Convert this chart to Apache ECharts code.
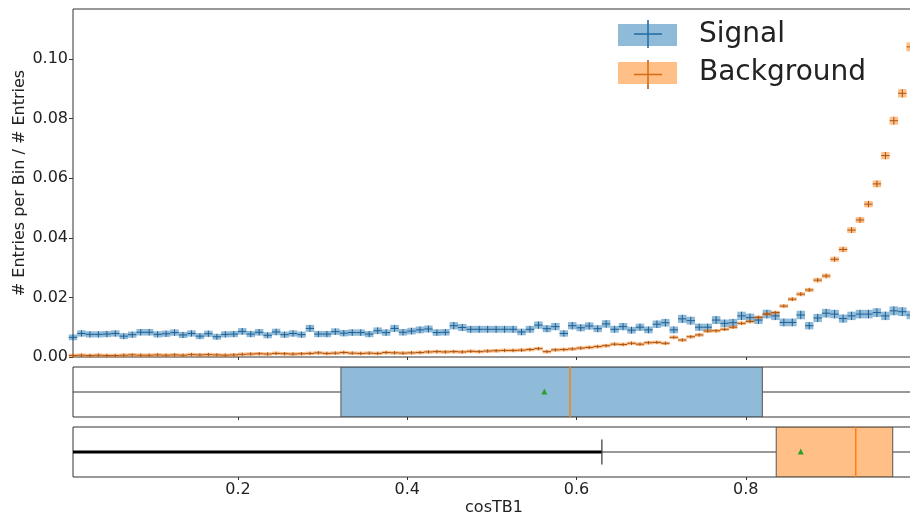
<!DOCTYPE html>
<html>
<head>
<meta charset="utf-8">
<script src="https://cdn.jsdelivr.net/npm/echarts@6/dist/echarts.min.js"></script>
<style>
  html, body { margin: 0; padding: 0; background: #fff; }
  #chart { width: 910px; height: 515px; }
</style>
</head>
<body>
<div id="chart"></div>
<script>
// histogram bins: 100 bins of cosTB1 from 0 to 1
const binStart = 0;
const binWidth = 0.01;
const seriesNames = ['Signal', 'Background'];

const sigValues = [
  0.0066, 0.0079, 0.0076, 0.0076, 0.0077, 0.0079, 0.0070, 0.0075, 0.0083, 0.0083,
  0.0076, 0.0078, 0.0082, 0.0074, 0.0079, 0.0070, 0.0078, 0.0068, 0.0076, 0.0077,
  0.0086, 0.0077, 0.0083, 0.0073, 0.0084, 0.0075, 0.0079, 0.0075, 0.0096, 0.0077,
  0.0077, 0.0085, 0.0080, 0.0082, 0.0082, 0.0077, 0.0088, 0.0082, 0.0096, 0.0083,
  0.0087, 0.0091, 0.0094, 0.0082, 0.0083, 0.0105, 0.0099, 0.0093, 0.0093, 0.0093,
  0.0093, 0.0093, 0.0093, 0.0084, 0.0093, 0.0107, 0.0095, 0.0102, 0.0079, 0.0105,
  0.0098, 0.0104, 0.0095, 0.0111, 0.0093, 0.0102, 0.0090, 0.0100, 0.0091, 0.0110,
  0.0115, 0.0091, 0.0128, 0.0122, 0.0100, 0.0100, 0.0124, 0.0113, 0.0115, 0.0138,
  0.0132, 0.0124, 0.0144, 0.0138, 0.0116, 0.0116, 0.0141, 0.0105, 0.0131, 0.0147,
  0.0144, 0.0129, 0.0138, 0.0144, 0.0144, 0.0149, 0.0138, 0.0155, 0.0152, 0.0141
];
const bkgValues = [
  0.0005, 0.0006, 0.0005, 0.0006, 0.0005, 0.0005, 0.0006, 0.0007, 0.0006, 0.0006,
  0.0007, 0.0006, 0.0007, 0.0006, 0.0008, 0.0007, 0.0008, 0.0007, 0.0006, 0.0007,
  0.0009, 0.0010, 0.0011, 0.0010, 0.0012, 0.0011, 0.0010, 0.0011, 0.0012, 0.0014,
  0.0012, 0.0013, 0.0015, 0.0013, 0.0012, 0.0013, 0.0012, 0.0015, 0.0014, 0.0013,
  0.0014, 0.0015, 0.0017, 0.0018, 0.0017, 0.0018, 0.0017, 0.0019, 0.0018, 0.0020,
  0.0021, 0.0022, 0.0022, 0.0023, 0.0025, 0.0028, 0.0018, 0.0024, 0.0025, 0.0027,
  0.0030, 0.0032, 0.0035, 0.0038, 0.0043, 0.0042, 0.0046, 0.0043, 0.0048, 0.0049,
  0.0046, 0.0066, 0.0057, 0.0068, 0.0074, 0.0087, 0.0088, 0.0093, 0.0100, 0.0113,
  0.0119, 0.0133, 0.0144, 0.0149, 0.0171, 0.0194, 0.0211, 0.0225, 0.0258, 0.0272,
  0.0328, 0.0361, 0.0426, 0.0460, 0.0513, 0.0581, 0.0676, 0.0793, 0.0885, 0.1041
];
// raw entries per sample, used for the poisson error bands
const sigEntries = 7000;
const bkgEntries = 45000;

// boxplots: [low whisker, q1, median, q3, high whisker, mean, flier low, flier high]
const sigBox = [0.0, 0.3216, 0.5924, 0.8196, 1.0, 0.562, null, null];
const bkgBox = [0.63, 0.836, 0.930, 0.9737, 1.0, 0.865, 0.0, 0.63];

const xTicks = [0.2, 0.4, 0.6, 0.8];
const yTicks = [0, 0.02, 0.04, 0.06, 0.08, 0.10];

const colors = {
  sigFill: 'rgba(31,119,180,0.5)',
  sigLine: '#1f5f94',
  bkgFill: 'rgba(255,127,14,0.5)',
  bkgLine: '#a8561a'
};
const font = 'DejaVu Sans';

const myChart = echarts.init(document.getElementById('chart'));

function histItem(fill, stroke) {
  return function (params, api) {
    const x = api.value(0), v = api.value(1), e = api.value(2);
    const left = api.coord([x - binWidth / 2, v]);
    const right = api.coord([x + binWidth / 2, v]);
    let top = api.coord([x, v + e])[1];
    let bot = api.coord([x, v - e])[1];
    if (bot - top < 3.5) {
      const mid = left[1];
      top = mid - 1.75;
      bot = mid + 1.75;
    }
    return {
      type: 'group',
      children: [
        {type: 'rect', shape: {x: left[0], y: top, width: right[0] - left[0], height: bot - top}, style: {fill: fill}},
        {type: 'line', shape: {x1: left[0], y1: left[1], x2: right[0], y2: right[1]}, style: {stroke: stroke, lineWidth: 1}},
        {type: 'line', shape: {x1: (left[0] + right[0]) / 2, y1: top, x2: (left[0] + right[0]) / 2, y2: bot}, style: {stroke: stroke, lineWidth: 1}}
      ]
    };
  };
}

function boxItem(fill) {
  return function (params, api) {
    const yTop = api.coord([0.5, 1])[1];
    const yBot = api.coord([0.5, 0])[1];
    const yc = (yTop + yBot) / 2;
    const capH = (yBot - yTop) / 4;
    const px = k => api.coord([api.value(k), 0.5])[0];
    const children = [];
    const fl0 = api.value(6), fl1 = api.value(7);
    if (!isNaN(fl0) && !isNaN(fl1)) {
      children.push({type: 'line', shape: {x1: px(6), y1: yc, x2: px(7), y2: yc}, style: {stroke: '#000', lineWidth: 3}});
    }
    // whiskers and caps
    children.push({type: 'line', shape: {x1: px(0), y1: yc, x2: px(1), y2: yc}, style: {stroke: '#333', lineWidth: 1}});
    children.push({type: 'line', shape: {x1: px(3), y1: yc, x2: px(4), y2: yc}, style: {stroke: '#333', lineWidth: 1}});
    children.push({type: 'line', shape: {x1: px(0), y1: yc - capH, x2: px(0), y2: yc + capH}, style: {stroke: '#333', lineWidth: 1.2}});
    children.push({type: 'line', shape: {x1: px(4), y1: yc - capH, x2: px(4), y2: yc + capH}, style: {stroke: '#333', lineWidth: 1.2}});
    // box
    children.push({type: 'rect', shape: {x: px(1), y: yTop, width: px(3) - px(1), height: yBot - yTop}, style: {fill: fill, stroke: '#555', lineWidth: 1}});
    // median
    children.push({type: 'line', shape: {x1: px(2), y1: yTop, x2: px(2), y2: yBot}, style: {stroke: '#ff7f0e', lineWidth: 1.5}});
    // mean
    const mx = px(5);
    children.push({type: 'polygon', shape: {points: [[mx, yc - 3.5], [mx - 3, yc + 2.5], [mx + 3, yc + 2.5]]}, style: {fill: '#2ca02c'}});
    return {type: 'group', children: children};
  };
}

function xAxisFor(idx, withLabels) {
  return {
    type: 'value',
    gridIndex: idx,
    min: 0.005,
    max: 1.0,
    axisLine: {show: false},
    axisTick: {show: true, customValues: xTicks, length: 3, lineStyle: {color: '#333'}},
    axisLabel: {
      show: withLabels,
      customValues: xTicks,
      margin: 5,
      fontSize: 16,
      fontFamily: font,
      color: '#222',
      formatter: v => v.toFixed(1)
    },
    splitLine: {show: false},
    name: withLabels ? 'cosTB1' : '',
    nameLocation: 'middle',
    nameGap: 23,
    nameMoveOverlap: false,
    nameTextStyle: {fontSize: 16, fontFamily: font, color: '#222'}
  };
}

const gridBase = {
  left: 73, right: -5, outerBoundsMode: 'none', containLabel: false,
  show: true, borderColor: '#333', borderWidth: 1, backgroundColor: 'transparent'
};

const option = {
  animation: false,
  backgroundColor: '#fff',
  grid: [
    Object.assign({}, gridBase, {top: 9, height: 348}),
    Object.assign({}, gridBase, {top: 367, height: 50}),
    Object.assign({}, gridBase, {top: 427, height: 50})
  ],
  legend: {
    data: seriesNames,
    orient: 'vertical',
    left: 618,
    top: 21,
    padding: 0,
    itemWidth: 59,
    itemHeight: 22,
    itemGap: 10,
    icon: 'rect',
    selectedMode: false,
    textStyle: {fontSize: 28, fontFamily: font, color: '#222', padding: [0, 0, 0, 17]}
  },
  graphic: [
    {type: 'line', shape: {x1: 634, y1: 34, x2: 662, y2: 34}, style: {stroke: colors.sigLine, lineWidth: 1.5}},
    {type: 'line', shape: {x1: 648, y1: 20, x2: 648, y2: 48}, style: {stroke: colors.sigLine, lineWidth: 1.5}},
    {type: 'line', shape: {x1: 634, y1: 74.5, x2: 662, y2: 74.5}, style: {stroke: colors.bkgLine, lineWidth: 1.5}},
    {type: 'line', shape: {x1: 648, y1: 60, x2: 648, y2: 89}, style: {stroke: colors.bkgLine, lineWidth: 1.5}}
  ],
  xAxis: [xAxisFor(0, false), xAxisFor(1, false), xAxisFor(2, true)],
  yAxis: [
    {
      type: 'value',
      gridIndex: 0,
      min: 0,
      max: 0.1168,
      axisLine: {show: false},
      axisTick: {show: true, customValues: yTicks, length: 4, lineStyle: {color: '#333'}},
      axisLabel: {customValues: yTicks, margin: 5, fontSize: 16, fontFamily: font, color: '#222', formatter: v => v.toFixed(2)},
      splitLine: {show: false},
      name: '# Entries per Bin / # Entries',
      nameLocation: 'middle',
      nameRotate: 90,
      nameGap: 53,
      nameMoveOverlap: false,
      nameTextStyle: {fontSize: 16, fontFamily: font, color: '#222', verticalAlign: 'middle'}
    },
    {type: 'value', gridIndex: 1, min: 0, max: 1, show: false},
    {type: 'value', gridIndex: 2, min: 0, max: 1, show: false}
  ],
  series: [
    {
      name: 'Signal',
      type: 'custom',
      xAxisIndex: 0,
      yAxisIndex: 0,
      itemStyle: {color: colors.sigFill},
      renderItem: histItem(colors.sigFill, colors.sigLine),
      data: sigValues.map((v, i) => [binStart + (i + 0.5) * binWidth, v, Math.sqrt(v / sigEntries)])
    },
    {
      name: 'Background',
      type: 'custom',
      xAxisIndex: 0,
      yAxisIndex: 0,
      itemStyle: {color: colors.bkgFill},
      renderItem: histItem(colors.bkgFill, colors.bkgLine),
      data: bkgValues.map((v, i) => [binStart + (i + 0.5) * binWidth, v, Math.sqrt(v / bkgEntries)])
    },
    {
      name: 'signalBox',
      type: 'custom',
      xAxisIndex: 1,
      yAxisIndex: 1,
      clip: true,
      renderItem: boxItem(colors.sigFill),
      data: [sigBox]
    },
    {
      name: 'backgroundBox',
      type: 'custom',
      xAxisIndex: 2,
      yAxisIndex: 2,
      clip: true,
      renderItem: boxItem(colors.bkgFill),
      data: [bkgBox]
    }
  ]
};

myChart.setOption(option);
</script>
</body>
</html>
